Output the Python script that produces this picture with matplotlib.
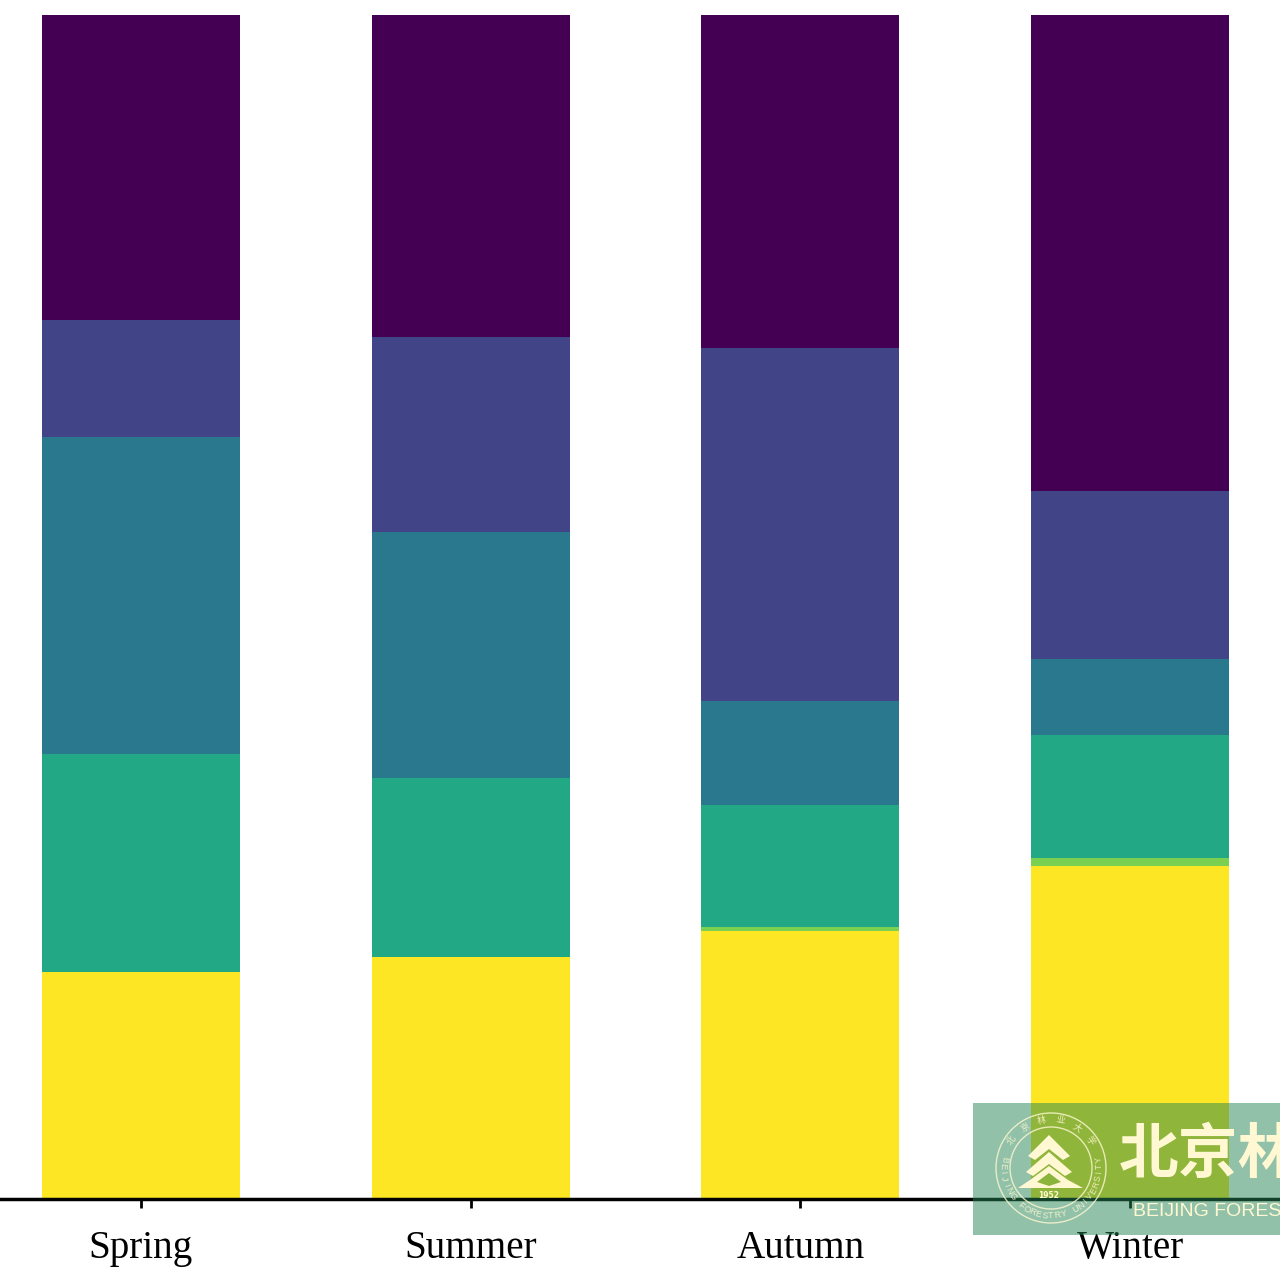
#!/usr/bin/env python3
"""Seasonal composition as 100% stacked bars, with the university watermark on top."""
import numpy as np
import matplotlib
matplotlib.use("Agg")
import matplotlib.pyplot as plt
from matplotlib.patches import Circle, Polygon, Rectangle

seasons = ["Spring", "Summer", "Autumn", "Winter"]
# stacked bottom to top, percent of each bar
yellow = [19.1, 20.4, 22.6, 28.1]
lime = [0.0, 0.0, 0.3, 0.6]
green = [18.4, 15.1, 10.3, 10.4]
teal = [26.8, 20.8, 8.8, 6.5]
indigo = [9.9, 16.5, 29.85, 14.2]
purple = [25.8, 27.2, 28.15, 40.2]

layers = [yellow, lime, green, teal, indigo, purple]
colors = ["#FDE725", "#7AD151", "#22A884", "#2A788E", "#414487", "#440154"]

W, H = 1280, 1279
CJK = ["Noto Sans CJK SC", "DejaVu Sans"]
fig = plt.figure(figsize=(W / 100, H / 100), dpi=100)
ax = fig.add_axes([0, 1 - 1198 / H, 1, 1198 / H])

bottom = [0.0] * len(seasons)
for vals, c in zip(layers, colors):
    ax.bar(range(len(seasons)), vals, width=0.6, bottom=bottom, color=c, linewidth=0)
    bottom = [b + v for b, v in zip(bottom, vals)]

# spine position first: moving it resets the tick label styling
for side in ("top", "left", "right"):
    ax.spines[side].set_visible(False)
ax.spines["bottom"].set_linewidth(2.5)
ax.spines["bottom"].set_position(("outward", 1))
ax.set_xlim(-0.4277, 3.455)
ax.set_ylim(0, 101.27)
ax.set_xticks(range(len(seasons)), seasons, family="Liberation Serif", fontsize=28.2)
ax.set_yticks([])
ax.tick_params(axis="x", length=6.5, width=2, pad=15.5, color="black")

# watermark, in figure pixels from the top left
cream = "#FFF8D2"
overlay = fig.add_axes([0, 0, 1, 1], facecolor="none")
overlay.set_xlim(0, W)
overlay.set_ylim(H, 0)
overlay.axis("off")
overlay.add_patch(Rectangle((973, 1103), 307, 132, facecolor="#258452", alpha=0.5, linewidth=0))
overlay.add_patch(Circle((1051, 1168), 55, fill=False, ec=cream, lw=1, alpha=0.8))
overlay.add_patch(Circle((1051, 1168), 41, fill=False, ec=cream, lw=1, alpha=0.8))
for pts in ([(1049, 1135), (1028, 1156), (1035, 1160), (1049, 1149), (1063, 1160), (1070, 1156)],
            [(1049, 1152), (1026, 1172), (1033, 1176), (1049, 1164), (1065, 1176), (1072, 1172)],
            [(1049, 1166), (1030, 1180), (1018, 1188), (1083, 1188), (1068, 1180)]):
    overlay.add_patch(Polygon(pts, closed=True, fc=cream, ec="none"))
overlay.add_patch(Polygon([(1049, 1173), (1037, 1182), (1049, 1186), (1061, 1182)],
                          closed=True, fc="#8BB43C", ec="none"))
overlay.text(1049, 1196, "1952", fontsize=5.5, color=cream, ha="center", va="center", weight="bold")

# seal lettering along the ring, angles in degrees from the bottom
seal_en = "BEIJING FORESTRY UNIVERSITY"
for ch, ang in zip(seal_en, np.linspace(-100, 100, len(seal_en))):
    a = np.radians(ang)
    overlay.text(1051 + 48 * np.sin(a), 1168 + 48 * np.cos(a), ch, fontsize=6.5, color=cream,
                 ha="center", va="center", rotation=ang, rotation_mode="anchor",
                 family="Liberation Sans", alpha=0.85)
seal_cn = "北京林业大学"
for ch, ang in zip(seal_cn, np.linspace(-55, 55, len(seal_cn))):
    a = np.radians(ang)
    overlay.text(1051 + 48 * np.sin(a), 1168 - 48 * np.cos(a), ch, fontsize=6.5, color=cream,
                 ha="center", va="center", rotation=-ang, rotation_mode="anchor",
                 family=CJK, alpha=0.85)

overlay.text(1119, 1156, "北京林", fontsize=43, color=cream, ha="left", va="center",
             family=CJK, weight="bold", clip_on=True)
overlay.text(1133, 1211, "BEIJING FORES", fontsize=14, color=cream, ha="left", va="center",
             family="Liberation Sans", clip_on=True)

fig.savefig("out.png", dpi=100)
